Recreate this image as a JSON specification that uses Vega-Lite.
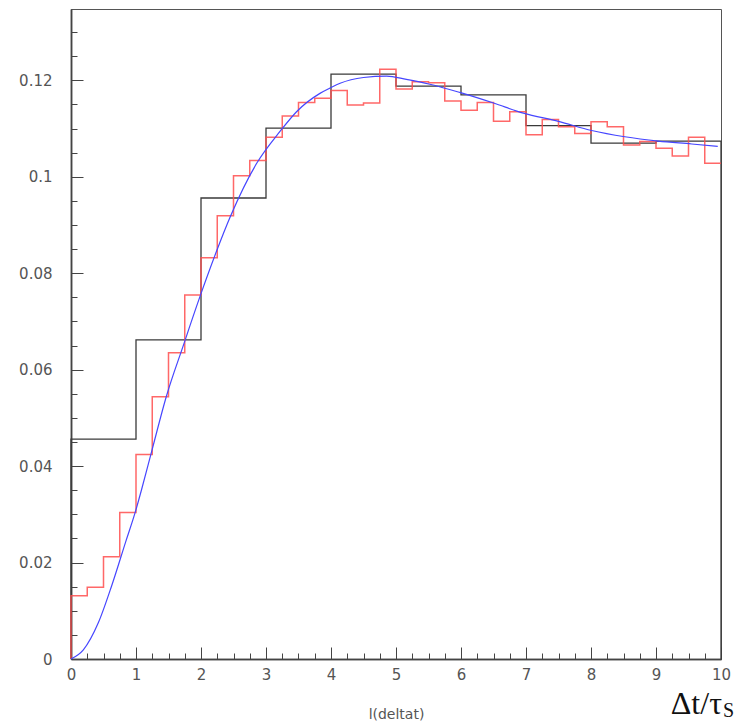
{
  "$schema": "https://vega.github.io/schema/vega-lite/v6.json",
  "width": 650,
  "height": 650,
  "autosize": {"type": "none"},
  "padding": {"left": 71, "top": 9, "right": 17, "bottom": 66},
  "background": "white",
  "config": {
    "view": {"stroke": "#555", "strokeWidth": 1},
    "axis": {
      "grid": false,
      "labelFlush": false,
      "domainColor": "#444",
      "domainWidth": 1.5,
      "tickColor": "#444",
      "tickWidth": 1,
      "labelFont": "DejaVu Sans",
      "labelFontSize": 15,
      "labelColor": "#555",
      "titleFont": "DejaVu Sans",
      "titleFontSize": 14,
      "titleFontWeight": "normal",
      "titleColor": "#555"
    }
  },
  "datasets": {
    "black": [
      {"i": 0, "x": 0, "y": 0},
      {"i": 1, "x": 0, "y": 0.0456},
      {"i": 2, "x": 1, "y": 0.0662},
      {"i": 3, "x": 2, "y": 0.0956},
      {"i": 4, "x": 3, "y": 0.1101},
      {"i": 5, "x": 4, "y": 0.1213},
      {"i": 6, "x": 5, "y": 0.1188},
      {"i": 7, "x": 6, "y": 0.1170},
      {"i": 8, "x": 7, "y": 0.1106},
      {"i": 9, "x": 8, "y": 0.1070},
      {"i": 10, "x": 9, "y": 0.1074},
      {"i": 11, "x": 10, "y": 0.1074},
      {"i": 12, "x": 10, "y": 0}
    ],
    "red": [
      {"i": 0, "x": 0, "y": 0},
      {"i": 1, "x": 0, "y": 0.0131},
      {"i": 2, "x": 0.25, "y": 0.0149},
      {"i": 3, "x": 0.5, "y": 0.0212},
      {"i": 4, "x": 0.75, "y": 0.0304},
      {"i": 5, "x": 1, "y": 0.0424},
      {"i": 6, "x": 1.25, "y": 0.0544},
      {"i": 7, "x": 1.5, "y": 0.0635},
      {"i": 8, "x": 1.75, "y": 0.0755},
      {"i": 9, "x": 2, "y": 0.0832},
      {"i": 10, "x": 2.25, "y": 0.0919},
      {"i": 11, "x": 2.5, "y": 0.1002},
      {"i": 12, "x": 2.75, "y": 0.1034},
      {"i": 13, "x": 3, "y": 0.1082},
      {"i": 14, "x": 3.25, "y": 0.1126},
      {"i": 15, "x": 3.5, "y": 0.1154},
      {"i": 16, "x": 3.75, "y": 0.1163},
      {"i": 17, "x": 4, "y": 0.1179},
      {"i": 18, "x": 4.25, "y": 0.1149},
      {"i": 19, "x": 4.5, "y": 0.1153},
      {"i": 20, "x": 4.75, "y": 0.1223},
      {"i": 21, "x": 5, "y": 0.1182},
      {"i": 22, "x": 5.25, "y": 0.1197},
      {"i": 23, "x": 5.5, "y": 0.1195},
      {"i": 24, "x": 5.75, "y": 0.1157},
      {"i": 25, "x": 6, "y": 0.1138},
      {"i": 26, "x": 6.25, "y": 0.1154},
      {"i": 27, "x": 6.5, "y": 0.1115},
      {"i": 28, "x": 6.75, "y": 0.1135},
      {"i": 29, "x": 7, "y": 0.1087},
      {"i": 30, "x": 7.25, "y": 0.1119},
      {"i": 31, "x": 7.5, "y": 0.1104},
      {"i": 32, "x": 7.75, "y": 0.1090},
      {"i": 33, "x": 8, "y": 0.1114},
      {"i": 34, "x": 8.25, "y": 0.1104},
      {"i": 35, "x": 8.5, "y": 0.1066},
      {"i": 36, "x": 8.75, "y": 0.1073},
      {"i": 37, "x": 9, "y": 0.1059},
      {"i": 38, "x": 9.25, "y": 0.1043},
      {"i": 39, "x": 9.5, "y": 0.1082},
      {"i": 40, "x": 9.75, "y": 0.1028},
      {"i": 41, "x": 10, "y": 0.1028}
    ],
    "blue": [
      {"x": 0, "y": 0},
      {"x": 0.19, "y": 0.0019},
      {"x": 0.42, "y": 0.0075},
      {"x": 0.626, "y": 0.0152},
      {"x": 0.846, "y": 0.0245},
      {"x": 0.985, "y": 0.0303},
      {"x": 1.087, "y": 0.0352},
      {"x": 1.24, "y": 0.043},
      {"x": 1.47, "y": 0.0546},
      {"x": 1.73, "y": 0.0651},
      {"x": 1.985, "y": 0.0752},
      {"x": 2.24, "y": 0.0846},
      {"x": 2.45, "y": 0.0917},
      {"x": 2.857, "y": 0.1028},
      {"x": 3.215, "y": 0.1094},
      {"x": 3.47, "y": 0.1135},
      {"x": 3.83, "y": 0.1173},
      {"x": 3.985, "y": 0.1184},
      {"x": 4.14, "y": 0.1194},
      {"x": 4.5, "y": 0.1206},
      {"x": 4.857, "y": 0.1209},
      {"x": 5.16, "y": 0.1202},
      {"x": 5.52, "y": 0.1192},
      {"x": 5.98, "y": 0.1175},
      {"x": 6.5, "y": 0.1153},
      {"x": 6.96, "y": 0.1132},
      {"x": 7.5, "y": 0.1115},
      {"x": 8.01, "y": 0.1096},
      {"x": 8.52, "y": 0.1083},
      {"x": 9.035, "y": 0.1074},
      {"x": 9.55, "y": 0.1068},
      {"x": 9.95, "y": 0.1063}
    ]
  },
  "layer": [
    {
      "data": {"name": "black"},
      "mark": {"type": "line", "interpolate": "step-after", "color": "#3a3a3a", "strokeWidth": 1.3},
      "encoding": {
        "x": {
          "field": "x", "type": "quantitative",
          "scale": {"domain": [0, 10], "nice": false, "zero": false},
          "axis": {
            "orient": "bottom",
            "values": [0, 1, 2, 3, 4, 5, 6, 7, 8, 9, 10],
            "format": "d",
            "tickSize": -12,
            "labelPadding": 20,
            "title": "l(deltat)",
            "titlePadding": 25
          }
        },
        "y": {
          "field": "y", "type": "quantitative",
          "scale": {"domain": [0, 0.1348], "nice": false, "zero": false},
          "axis": {
            "orient": "left",
            "values": [0, 0.02, 0.04, 0.06, 0.08, 0.1, 0.12],
            "format": "~g",
            "tickSize": -12,
            "labelPadding": 31,
            "title": null
          }
        },
        "order": {"field": "i", "type": "quantitative"}
      }
    },
    {
      "data": {"name": "red"},
      "mark": {"type": "line", "interpolate": "step-after", "color": "#ff4d4d", "strokeWidth": 1.5, "opacity": 0.85},
      "encoding": {
        "x": {
          "field": "x", "type": "quantitative",
          "scale": {"domain": [0, 10], "nice": false, "zero": false},
          "axis": {
            "orient": "bottom",
            "values": [0, 0.25, 0.5, 0.75, 1, 1.25, 1.5, 1.75, 2, 2.25, 2.5, 2.75, 3, 3.25, 3.5, 3.75, 4, 4.25, 4.5, 4.75, 5, 5.25, 5.5, 5.75, 6, 6.25, 6.5, 6.75, 7, 7.25, 7.5, 7.75, 8, 8.25, 8.5, 8.75, 9, 9.25, 9.5, 9.75, 10],
            "tickSize": -6,
            "labels": false,
            "title": null
          }
        },
        "y": {
          "field": "y", "type": "quantitative",
          "scale": {"domain": [0, 0.1348], "nice": false, "zero": false},
          "axis": {
            "orient": "left",
            "values": [0, 0.005, 0.01, 0.015, 0.02, 0.025, 0.03, 0.035, 0.04, 0.045, 0.05, 0.055, 0.06, 0.065, 0.07, 0.075, 0.08, 0.085, 0.09, 0.095, 0.1, 0.105, 0.11, 0.115, 0.12, 0.125, 0.13],
            "tickSize": -6,
            "labels": false,
            "title": null
          }
        },
        "order": {"field": "i", "type": "quantitative"}
      }
    },
    {
      "data": {"name": "blue"},
      "mark": {"type": "line", "interpolate": "monotone", "color": "#4646ff", "strokeWidth": 1.2},
      "encoding": {
        "x": {"field": "x", "type": "quantitative", "scale": {"domain": [0, 10], "nice": false, "zero": false}, "axis": null},
        "y": {"field": "y", "type": "quantitative", "scale": {"domain": [0, 0.1348], "nice": false, "zero": false}, "axis": null}
      }
    },
    {
      "data": {"values": [{"label": "Δt/τ"}]},
      "mark": {"type": "text", "align": "right", "baseline": "alphabetic", "font": "Liberation Serif", "fontSize": 32, "color": "#111", "clip": false, "dx": 1},
      "encoding": {
        "text": {"field": "label", "type": "nominal"},
        "x": {"datum": 10, "type": "quantitative", "scale": {"domain": [0, 10], "nice": false, "zero": false}, "axis": null},
        "y": {"datum": -0.0114, "type": "quantitative", "scale": {"domain": [0, 0.1348], "nice": false, "zero": false}, "axis": null}
      }
    },
    {
      "data": {"values": [{"label": "S"}]},
      "mark": {"type": "text", "align": "left", "baseline": "alphabetic", "font": "Liberation Serif", "fontSize": 20, "color": "#111", "clip": false, "dx": 2},
      "encoding": {
        "text": {"field": "label", "type": "nominal"},
        "x": {"datum": 10, "type": "quantitative", "scale": {"domain": [0, 10], "nice": false, "zero": false}, "axis": null},
        "y": {"datum": -0.0121, "type": "quantitative", "scale": {"domain": [0, 0.1348], "nice": false, "zero": false}, "axis": null}
      }
    }
  ],
  "resolve": {"axis": {"x": "independent", "y": "independent"}}
}
